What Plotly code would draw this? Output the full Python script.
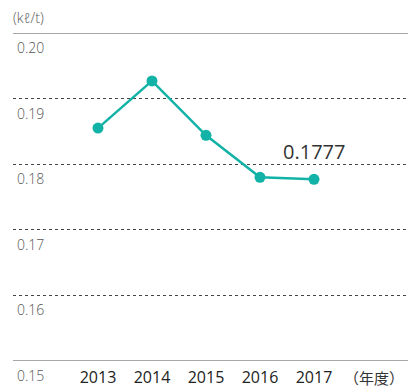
import plotly.graph_objects as go

# Energy intensity per ton of production, by fiscal year
years = [2013, 2014, 2015, 2016, 2017]
intensity = [0.1855, 0.1927, 0.1844, 0.1780, 0.1777]
y_ticks = [0.15, 0.16, 0.17, 0.18, 0.19, 0.20]
y_tick_text = ["0.15", "0.16", "0.17", "0.18", "0.19", "0.20"]
unit_label = "(kℓ/t)"
year_label = "（年度）"
last_value_label = "0.1777"

FONT = "Open Sans, Noto Sans CJK JP, sans-serif"
TEAL = "#12b3a6"

fig = go.Figure()
fig.add_trace(go.Scatter(
    x=years, y=intensity, mode="lines+markers",
    line=dict(color=TEAL, width=2.5),
    marker=dict(color=TEAL, size=11),
    hoverinfo="skip", showlegend=False,
))

# Solid rules at the top and bottom of the value range
for v in (y_ticks[0], y_ticks[-1]):
    fig.add_shape(type="line", xref="paper", yref="y", x0=0, x1=1, y0=v, y1=v,
                  line=dict(color="#8a8a8a", width=1.5), layer="above")

# Value labels sit just below each horizontal rule
for v, t in zip(y_ticks, y_tick_text):
    fig.add_annotation(text=t, xref="paper", yref="y", x=0, y=v,
                       xanchor="left", yanchor="top", xshift=2, yshift=-3,
                       showarrow=False,
                       font=dict(family=FONT, size=14, color="#555", weight=300))

fig.add_annotation(text=unit_label, xref="paper", yref="paper", x=-0.005, y=1.0,
                   xanchor="left", yanchor="bottom", yshift=4, showarrow=False,
                   font=dict(family=FONT, size=14, color="#555", weight=300))
fig.add_annotation(text=year_label, xref="paper", yref="paper", x=0.915, y=0,
                   xanchor="center", yanchor="middle", yshift=-17, showarrow=False,
                   font=dict(family=FONT, size=15, color="#333", weight=400))
fig.add_annotation(text=last_value_label, x=years[-1], y=intensity[-1],
                   xanchor="center", yanchor="bottom", yshift=12, showarrow=False,
                   font=dict(family=FONT, size=20, color="#333", weight=400))

fig.update_layout(
    width=408, height=388,
    margin=dict(l=13, r=0, t=33, b=25),
    paper_bgcolor="white", plot_bgcolor="white",
    font=dict(family=FONT),
    xaxis=dict(
        range=[2011.426, 2018.741], tickvals=years, ticktext=[str(y) for y in years],
        showgrid=False, zeroline=False, showline=False, ticks="",
        ticklabelstandoff=5,
        tickfont=dict(family=FONT, size=16, color="#222", weight=400),
        fixedrange=True,
    ),
    yaxis=dict(
        range=[0.15, 0.20], tickvals=y_ticks, showticklabels=False,
        showgrid=True, gridcolor="#444", griddash="dot", gridwidth=1,
        zeroline=False, showline=False, ticks="",
        fixedrange=True,
    ),
)

fig.write_html("out.html")
